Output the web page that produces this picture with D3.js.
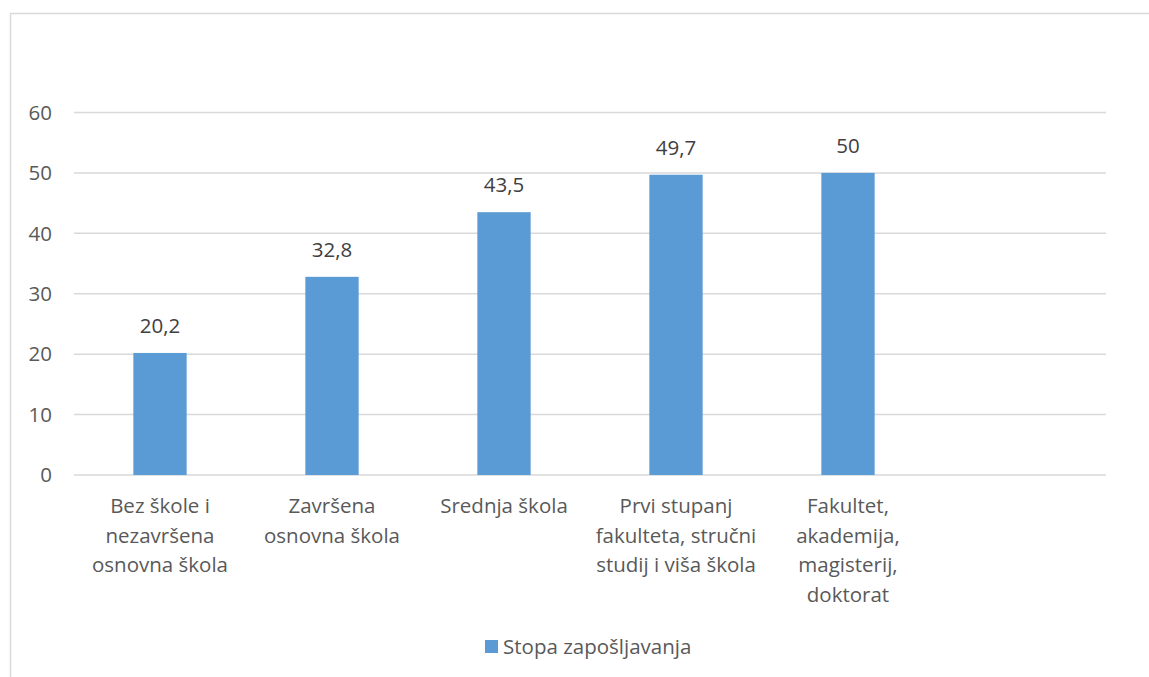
<html>
<head>
    <meta charSet="utf-8">
    <title>Stopa zapošljavanja</title>
    <script src="https://d3js.org/d3.v7.min.js"></script>
    <style>
        body { margin: 0; background: #fff; }
        text { font-family: "Open Sans", "Noto Sans", sans-serif; }
    </style>
</head>
<body>
<svg id="chart"></svg>
<script>
    const categories = [
        "Bez škole i\nnezavršena\nosnovna škola",
        "Završena\nosnovna škola",
        "Srednja škola",
        "Prvi stupanj\nfakulteta, stručni\nstudij i viša škola",
        "Fakultet,\nakademija,\nmagisterij,\ndoktorat"
    ];
    const values = [20.2, 32.8, 43.5, 49.7, 50];
    const yTicks = [0, 10, 20, 30, 40, 50, 60];
    const seriesName = "Stopa zapošljavanja";

    const width = 1149;
    const height = 677;
    const plotLeft = 74, plotRight = 1106, plotTop = 112.5, plotBottom = 475;
    const fontSize = 20.5;

    const svg = d3.select("#chart")
        .attr("width", width)
        .attr("height", height);

    // chart border (only top and left visible in the crop)
    svg.append("path")
        .attr("d", "M10.5,677 V13.5 H1149")
        .attr("fill", "none")
        .attr("stroke", "#d9d9d9")
        .attr("stroke-width", 1.5);

    // one empty slot after the last category
    const x = d3.scaleBand()
        .domain(categories.concat([""]))
        .range([plotLeft, plotRight])
        .paddingInner(0.69)
        .paddingOuter(0.345);

    const y = d3.scaleLinear()
        .domain([0, 60])
        .range([plotBottom, plotTop]);

    svg.append("g")
        .selectAll("line")
        .data(yTicks)
        .join("line")
        .attr("x1", plotLeft)
        .attr("x2", plotRight)
        .attr("y1", d => y(d))
        .attr("y2", d => y(d))
        .attr("stroke", "#d9d9d9")
        .attr("stroke-width", 1.5);

    svg.append("g")
        .selectAll("text")
        .data(yTicks)
        .join("text")
        .attr("x", 52)
        .attr("y", d => y(d))
        .attr("dy", "0.35em")
        .attr("text-anchor", "end")
        .attr("font-size", fontSize)
        .attr("fill", "#595959")
        .text(d => d);

    svg.append("g")
        .selectAll("rect")
        .data(values)
        .join("rect")
        .attr("x", (d, i) => x(categories[i]))
        .attr("width", x.bandwidth())
        .attr("y", d => y(d))
        .attr("height", d => y(0) - y(d))
        .attr("fill", "#5b9bd5");

    svg.append("g")
        .selectAll("text")
        .data(values)
        .join("text")
        .attr("x", (d, i) => x(categories[i]) + x.bandwidth() / 2)
        .attr("y", d => y(d) - 27)
        .attr("dy", "0.35em")
        .attr("text-anchor", "middle")
        .attr("font-size", fontSize)
        .attr("fill", "#404040")
        .text(d => String(d).replace(".", ","));

    const catLabels = svg.append("g")
        .selectAll("text")
        .data(categories)
        .join("text")
        .attr("x", d => x(d) + x.bandwidth() / 2)
        .attr("y", 506)
        .attr("text-anchor", "middle")
        .attr("font-size", fontSize)
        .attr("fill", "#595959");

    catLabels.selectAll("tspan")
        .data(d => d.split("\n"))
        .join("tspan")
        .attr("x", function () { return d3.select(this.parentNode).attr("x"); })
        .attr("dy", (d, i) => i === 0 ? "0.35em" : 29.5)
        .text(d => d);

    const legend = svg.append("g").attr("transform", "translate(485,646.5)");
    legend.append("rect")
        .attr("x", 0)
        .attr("y", -6.5)
        .attr("width", 13)
        .attr("height", 13)
        .attr("fill", "#5b9bd5");
    legend.append("text")
        .attr("x", 18)
        .attr("y", 0)
        .attr("dy", "0.35em")
        .attr("font-size", fontSize)
        .attr("fill", "#595959")
        .text(seriesName);
</script>
</body>
</html>
